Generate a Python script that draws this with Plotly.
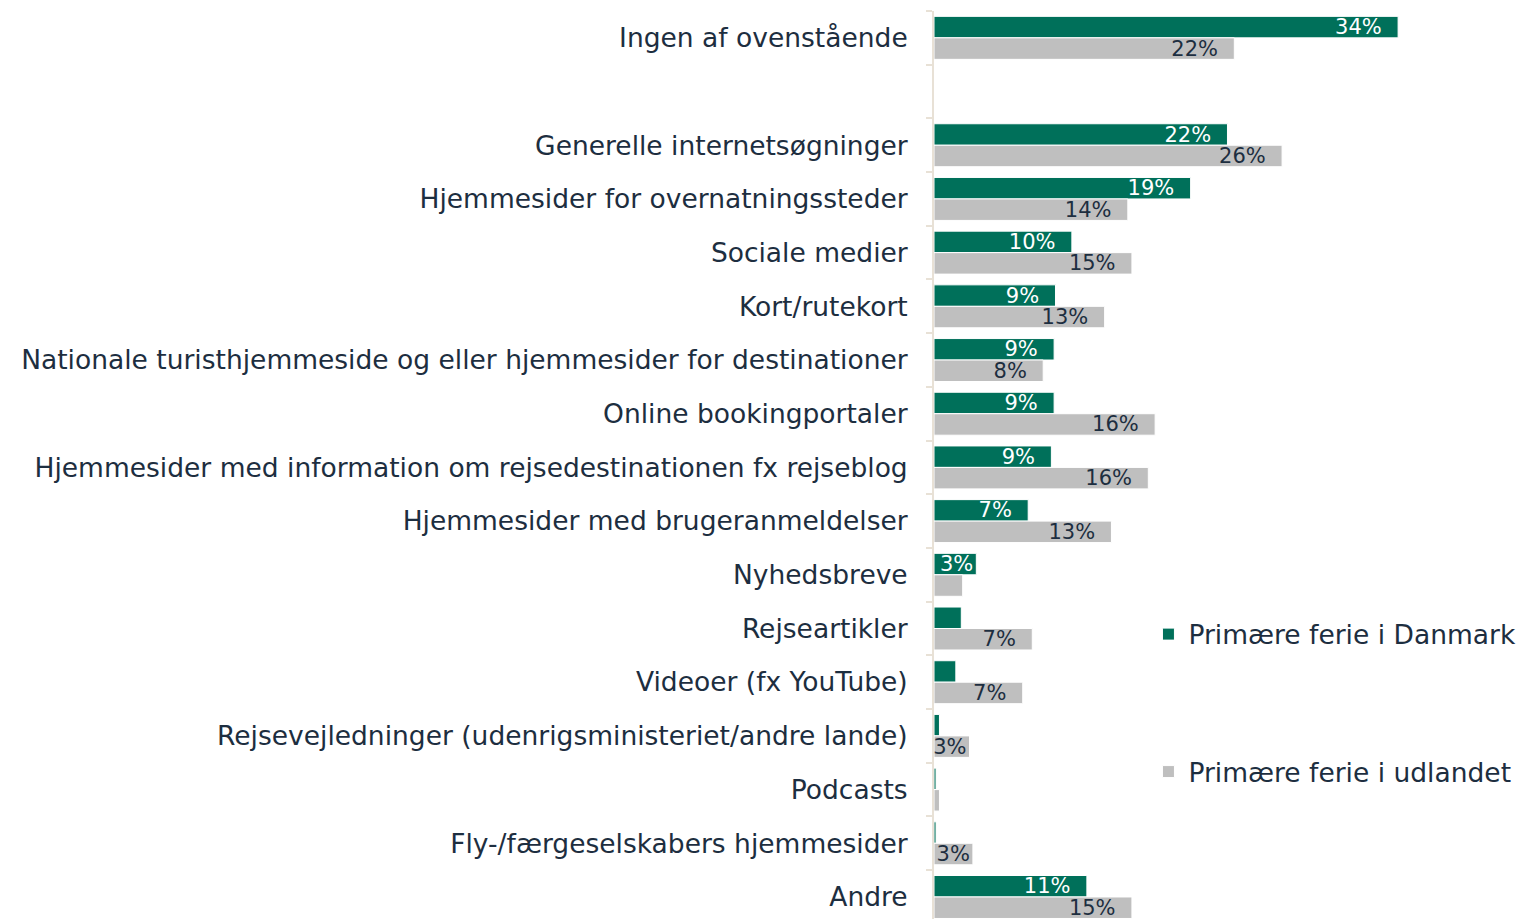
import plotly.graph_objects as go

categories = [
    "Ingen af ovenstående",
    " ",
    "Generelle internetsøgninger",
    "Hjemmesider for overnatningssteder",
    "Sociale medier",
    "Kort/rutekort",
    "Nationale turisthjemmeside og eller hjemmesider for destinationer",
    "Online bookingportaler",
    "Hjemmesider med information om rejsedestinationen fx rejseblog",
    "Hjemmesider med brugeranmeldelser",
    "Nyhedsbreve",
    "Rejseartikler",
    "Videoer (fx YouTube)",
    "Rejsevejledninger (udenrigsministeriet/andre lande)",
    "Podcasts",
    "Fly-/færgeselskabers hjemmesider",
    "Andre",
]

danmark = [34.0, None, 21.5, 18.8, 10.1, 8.9, 8.8, 8.8, 8.6, 6.9, 3.1, 2.0, 1.6, 0.4, 0.15, 0.15, 11.2]
udlandet = [22.0, None, 25.5, 14.2, 14.5, 12.5, 8.0, 16.2, 15.7, 13.0, 2.1, 7.2, 6.5, 2.6, 0.4, 2.85, 14.5]

series_names = ["Primære ferie i Danmark", "Primære ferie i udlandet"]
colors = ["#00705A", "#BFBFBF"]
label_colors = ["#FFFFFF", "#1D2E40"]

PAD = "\u00a0\u00a0"


def labels(vals):
    out = []
    for v in vals:
        if v is None or v < 2.5:
            out.append("")
        else:
            s = f"{round(v + 1e-9):.0f}%"
            out.append(s + (PAD if v >= 5 else ""))
    return out


FONT = "DejaVu Sans"
TXT = "#1D2E40"
FS = 26.5
LFS = 21

fig = go.Figure()
for i, (name, vals) in enumerate(zip(series_names, [danmark, udlandet])):
    fig.add_trace(go.Bar(
        y=categories, x=vals, orientation="h", name=name,
        marker=dict(color=colors[i], line=dict(color="#FFFFFF", width=1)),
        text=labels(vals), textposition="inside", insidetextanchor="end",
        textfont=dict(color=label_colors[i], size=LFS, family=FONT),
        legendgroup=f"g{i}", cliponaxis=False, hoverinfo="skip",
    ))

fig.update_layout(
    width=1522, height=919,
    margin=dict(l=934, r=10, t=11, b=0),
    barmode="group", bargap=0.2, bargroupgap=0,
    plot_bgcolor="white", paper_bgcolor="white",
    font=dict(family=FONT, color=TXT, size=FS),
    uniformtext=dict(mode="show", minsize=LFS),
    showlegend=True,
    legend=dict(
        x=0.371, xanchor="left", y=0.238, yanchor="middle",
        traceorder="grouped", tracegroupgap=100,
        font=dict(size=FS, color=TXT, family=FONT),
        itemwidth=30, bgcolor="rgba(0,0,0,0)",
    ),
)
fig.update_xaxes(range=[0, 578 / 13.65], visible=False, showgrid=False, zeroline=False)
fig.update_yaxes(
    type="category", categoryorder="array", categoryarray=categories,
    range=[16.41, -0.5],
    showline=True, linecolor="#E8E1D6", linewidth=2,
    ticks="outside", tickson="boundaries", ticklen=6, tickcolor="#E8E1D6", tickwidth=2,
    ticklabelstandoff=19, showgrid=False,
    tickfont=dict(size=FS, color=TXT, family=FONT),
)

fig.write_html("out.html", config={"displayModeBar": False},
               post_script="document.body.style.margin='0';")
